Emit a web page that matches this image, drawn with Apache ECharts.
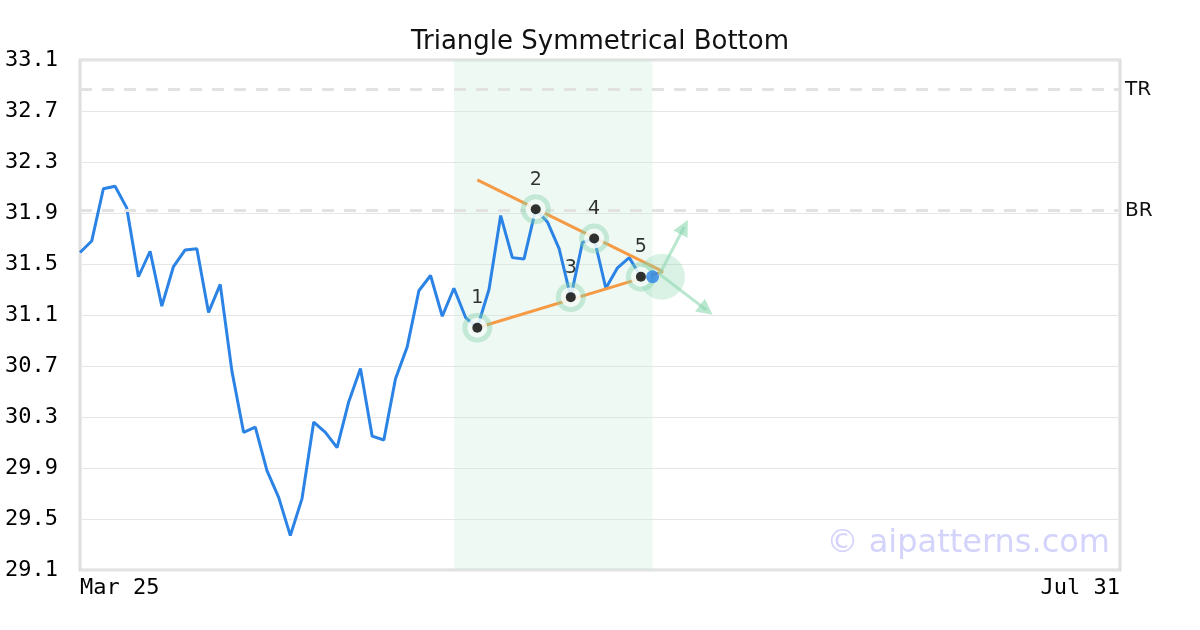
<!DOCTYPE html>
<html>
<head>
<meta charset="utf-8">
<script src="https://cdn.jsdelivr.net/npm/echarts@6/dist/echarts.min.js"></script>
<style>html,body{margin:0;padding:0;background:#fff}#chart{width:1200px;height:630px}</style>
</head>
<body>
<div id="chart"></div>
<script>
const dates = [
"Mar 25","Mar 26","Mar 27","Mar 28","Mar 29",
"Apr 1","Apr 2","Apr 3","Apr 4","Apr 5","Apr 8","Apr 9","Apr 10","Apr 11","Apr 12","Apr 15","Apr 16","Apr 17","Apr 18","Apr 19","Apr 22","Apr 23","Apr 24","Apr 25","Apr 26","Apr 29","Apr 30",
"May 1","May 2","May 3","May 6","May 7","May 8","May 9","May 10","May 13","May 14","May 15","May 16","May 17","May 20","May 21","May 22","May 23","May 24","May 28","May 29","May 30","May 31",
"Jun 3","Jun 4","Jun 5","Jun 6","Jun 7","Jun 10","Jun 11","Jun 12","Jun 13","Jun 14","Jun 17","Jun 18","Jun 20","Jun 21","Jun 24","Jun 25","Jun 26","Jun 27","Jun 28",
"Jul 1","Jul 2","Jul 3","Jul 5","Jul 8","Jul 9","Jul 10","Jul 11","Jul 12","Jul 15","Jul 16","Jul 17","Jul 18","Jul 19","Jul 22","Jul 23","Jul 24","Jul 25","Jul 26","Jul 29","Jul 30","Jul 31"
];
const prices = [31.59,31.68,32.09,32.11,31.94,31.40,31.60,31.17,31.48,31.61,
31.62,31.12,31.34,30.66,30.18,30.22,29.88,29.67,29.37,29.66,
30.26,30.18,30.06,30.42,30.68,30.15,30.12,30.60,30.85,31.29,
31.41,31.09,31.31,31.08,31.00,31.30,31.88,31.55,31.54,31.93,
31.83,31.62,31.24,31.67,31.70,31.31,31.47,31.55,31.40,31.40];
const pivotIdx = [34,39,42,44,48];
const pivotVal = [31.00,31.93,31.24,31.70,31.40];
const pivotLabels = ["1","2","3","4","5"];
const upperLine = [[34,32.16],[49.9,31.44]];
const lowerLine = [[34,31.00],[49.9,31.44]];
const apex = [49.8,31.40];
const arrowStart = [49.6,31.42];
const arrowUpEnd = [51.7,31.79];
const arrowDownEnd = [53.6,31.14];
const levels = [{name:"TR",value:32.87},{name:"BR",value:31.92}];
const shadeRange = [32,49];
const yTicks = {min:29.1,max:33.1,step:0.4};

const BASE = yTicks.min;
const sh = v => +(v - BASE).toFixed(4);

const chart = echarts.init(document.getElementById('chart'), null, {renderer:'canvas'});
const green = 'rgba(130,210,170,0.5)';
const option = {
  animation:false,
  title:{text:'Triangle Symmetrical Bottom',left:'center',top:24,
    textStyle:{fontFamily:'DejaVu Sans',fontSize:26,fontWeight:'normal',color:'#111'}},
  grid:{left:80,right:80,top:60,bottom:60,show:true,borderColor:'#dedede',borderWidth:3,backgroundColor:'transparent'},
  xAxis:[
    {type:'category',data:dates,boundaryGap:false,
     axisLine:{show:false},axisTick:{show:false},splitLine:{show:false},
     axisLabel:{interval:(i)=>i===0||i===dates.length-1,alignMinLabel:'left',alignMaxLabel:'right',
       fontFamily:'DejaVu Sans Mono',fontSize:22,color:'#000',margin:7}},
    {type:'value',min:0,max:dates.length-1,show:false}
  ],
  yAxis:{type:'value',min:0,max:sh(yTicks.max),interval:yTicks.step,
    axisLine:{show:false},axisTick:{show:false},
    splitLine:{lineStyle:{color:'#e6e6e6',width:1}},
    axisLabel:{formatter:v=>(v+BASE).toFixed(1),fontFamily:'DejaVu Sans Mono',fontSize:22,color:'#000',margin:22,padding:[4,0,0,0]}},
  graphic:[{type:'text',right:90,top:528,z:100,
    style:{text:'© aipatterns.com',fontFamily:'DejaVu Sans',fontSize:32,fill:'#d3d3fb'}}],
  series:[
    {type:'line',xAxisIndex:0,data:[],z:1,
     markArea:{silent:true,itemStyle:{color:'rgba(200,235,220,0.3)'},
       data:[[{xAxis:dates[shadeRange[0]]},{xAxis:dates[shadeRange[1]]}]]},
     markLine:{silent:true,symbol:'none',
       lineStyle:{color:'#e2e2e2',width:3,type:[12,10]},
       label:{show:true,position:'end',distance:5,formatter:'{b}',fontFamily:'DejaVu Sans',fontSize:20,color:'#111',padding:[2,0,0,0]},
       data:levels.map(l=>({name:l.name,yAxis:sh(l.value)}))}},
    {type:'line',xAxisIndex:0,data:prices.map(sh),symbol:'none',z:3,
     lineStyle:{color:'#2b83e6',width:3},itemStyle:{color:'#2b83e6'}},
    {type:'line',xAxisIndex:1,data:upperLine.map(p=>[p[0],sh(p[1])]),symbol:'none',z:4,
     lineStyle:{color:'#f59a45',width:3}},
    {type:'line',xAxisIndex:1,data:lowerLine.map(p=>[p[0],sh(p[1])]),symbol:'none',z:4,
     lineStyle:{color:'#f59a45',width:3}},
    {type:'line',xAxisIndex:1,data:[],z:5,
     markLine:{silent:true,symbol:['none','triangle'],symbolSize:[16,16],
       lineStyle:{color:'rgba(140,215,175,0.6)',width:3,type:'solid'},
       label:{show:false},
       data:[
         [{coord:[arrowStart[0],sh(arrowStart[1])]},{coord:[arrowUpEnd[0],sh(arrowUpEnd[1])]}],
         [{coord:[arrowStart[0],sh(arrowStart[1])]},{coord:[arrowDownEnd[0],sh(arrowDownEnd[1])]}]
       ]}},
    {type:'scatter',xAxisIndex:1,data:[[apex[0],sh(apex[1])]],symbolSize:46,z:5,
     itemStyle:{color:'rgba(140,215,175,0.4)'}},
    {type:'scatter',xAxisIndex:0,data:pivotIdx.map((i,k)=>[i,sh(pivotVal[k])]),symbolSize:30,z:6,
     itemStyle:{color:green}},
    {type:'scatter',xAxisIndex:0,data:pivotIdx.map((i,k)=>[i,sh(pivotVal[k])]),symbolSize:20,z:7,
     itemStyle:{color:'#fff'}},
    {type:'scatter',xAxisIndex:0,data:pivotIdx.map((i,k)=>({value:[i,sh(pivotVal[k])],name:pivotLabels[k]})),symbolSize:10,z:8,
     itemStyle:{color:'#000'},
     label:{show:true,position:'top',distance:15,formatter:'{b}',fontFamily:'DejaVu Sans',fontSize:19,color:'#000'}},
    {type:'scatter',xAxisIndex:0,data:[[prices.length-1,sh(prices[prices.length-1])]],symbolSize:13,z:9,
     itemStyle:{color:'#2b83e6'}}
  ]
};
chart.setOption(option);
</script>
</body>
</html>
